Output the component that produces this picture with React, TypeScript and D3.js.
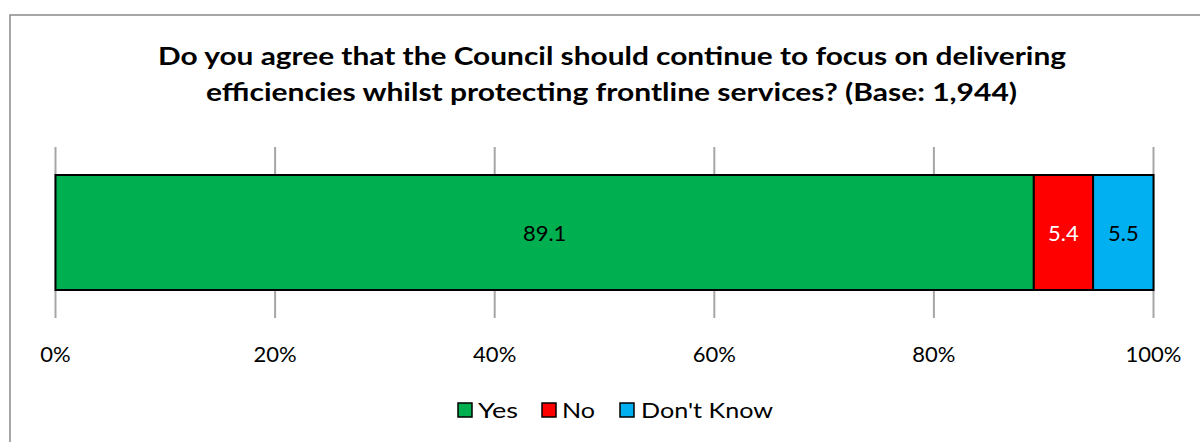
import React from "react";
import * as d3 from "d3";

const title1 = "Do you agree that the Council should continue to focus on delivering";
const title2 = "efficiencies whilst protecting frontline services? (Base: 1,944)";
const categories = ["Yes", "No", "Don't Know"];
const values = [89.1, 5.4, 5.5];
const colors = ["#00B050", "#FF0000", "#00B0F0"];
const labelColors = ["#000000", "#FFFFFF", "#000000"];
const ticks = [0, 20, 40, 60, 80, 100];

const W = 1200;
const H = 442;
const FONT = "Lato, 'Open Sans', sans-serif";

export default function App() {
  const x = d3.scaleLinear().domain([0, 100]).range([55.5, 1153.5]);
  const y = d3.scaleBand().domain(["q"]).range([147, 318]).paddingInner(0).paddingOuter(0.2435);
  let cum = 0;
  const segs = values.map((v, i) => {
    const s = { x0: cum, x1: cum + v, v, i };
    cum += v;
    return s;
  });
  const by = y("q") as number;
  const bh = y.bandwidth();

  const legendItems = [
    { sq: 458, tx: 478 },
    { sq: 542, tx: 562 },
    { sq: 620, tx: 641 },
  ];
  const legendW = [40, 33, 132];

  return (
    <svg width={W} height={H} style={{ position: "absolute", left: 0, top: 0, background: "#fff" }}>
      <rect x={0} y={0} width={W} height={H} fill="#fff" />
      <rect x={10} y={15} width={W + 20} height={H + 20} fill="none" stroke="#898989" strokeWidth={1.5} />
      <text x={612} y={65} textAnchor="middle" fontFamily={FONT} fontWeight="bold" fontSize={25} fill="#000"
        textLength={908} lengthAdjust="spacingAndGlyphs">{title1}</text>
      <text x={611.5} y={101} textAnchor="middle" fontFamily={FONT} fontWeight="bold" fontSize={25} fill="#000"
        textLength={811} lengthAdjust="spacingAndGlyphs">{title2}</text>
      {ticks.map((t) => (
        <line key={"g" + t} x1={x(t)} x2={x(t)} y1={147} y2={318} stroke="#A6A6A6" strokeWidth={2} />
      ))}
      {segs.map((s) => (
        <rect key={"b" + s.i} x={x(s.x0)} y={by} width={x(s.x1) - x(s.x0)} height={bh}
          fill={colors[s.i]} stroke="#000" strokeWidth={2} />
      ))}
      {segs.map((s) => (
        <text key={"l" + s.i} x={(x(s.x0) + x(s.x1)) / 2} y={by + bh / 2 + 8} textAnchor="middle"
          fontFamily={FONT} fontSize={22} fill={labelColors[s.i]}>{s.v.toFixed(1)}</text>
      ))}
      {ticks.map((t) => (
        <text key={"t" + t} x={x(t)} y={362} textAnchor="middle" fontFamily={FONT} fontSize={22} fill="#000">{t + "%"}</text>
      ))}
      {categories.map((c, i) => (
        <g key={"lg" + i}>
          <rect x={legendItems[i].sq} y={403} width={14} height={14} fill={colors[i]} stroke="#000" strokeWidth={1.5} />
          <text x={legendItems[i].tx} y={418} fontFamily={FONT} fontSize={22} fill="#000"
            textLength={legendW[i]} lengthAdjust="spacingAndGlyphs">{c}</text>
        </g>
      ))}
    </svg>
  );
}
